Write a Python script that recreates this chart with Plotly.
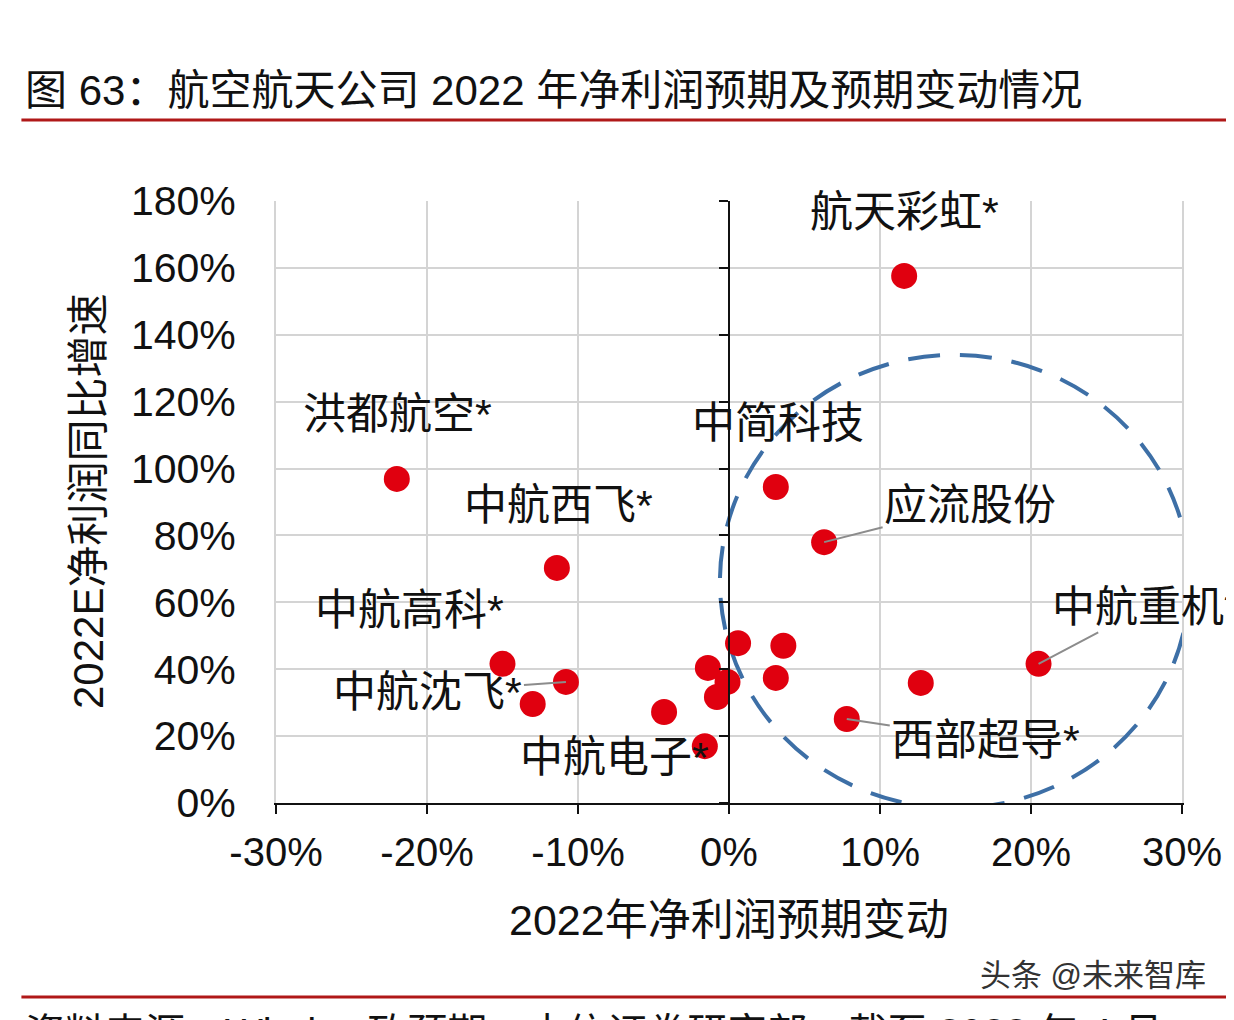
import plotly.graph_objects as go

# 2022 net profit forecast change (%) vs 2022E net profit growth (%)
x_change = [11.6, -22.0, 3.1, 6.3, -11.4, 0.6, 3.6, 20.5, -15.0, -1.4,
            3.1, -0.1, -10.8, 12.7, -0.8, -13.0, -4.3, 7.8, -1.6]
y_growth = [157.6, 96.9, 94.5, 78.0, 70.3, 47.8, 47.0, 41.6, 41.6, 40.4,
            37.4, 36.2, 36.2, 35.9, 31.7, 29.6, 27.2, 25.1, 17.0]
names = ["航天彩虹*", "洪都航空*", "中简科技", "应流股份", "中航西飞*", "", "",
         "中航重机*", "中航高科*", "", "", "", "中航沈飞*", "", "", "", "",
         "西部超导*", "中航电子*"]

x_ticks = [-30, -20, -10, 0, 10, 20, 30]
x_ticktext = ["-30%", "-20%", "-10%", "0%", "10%", "20%", "30%"]
y_ticks = [0, 20, 40, 60, 80, 100, 120, 140, 160, 180]
y_ticktext = ["0%", "20%", "40%", "60%", "80%", "100%", "120%", "140%",
              "160%", "180%"]

# label placement in pixels relative to the point: (dx, dy, leader line)
label_pos = {
    "航天彩虹*": (0, -64, False),
    "洪都航空*": (1, -65, False),
    "中简科技": (2, -64, False),
    "中航西飞*": (2, -63, False),
    "中航高科*": (-93, -54, False),
    "中航沈飞*": (-138, 10, True),
    "中航电子*": (-90, 11, False),
    "应流股份": (146, -37, True),
    "中航重机*": (108, -57, True),
    "西部超导*": (139, 21, True),
}

FONT = "Liberation Sans, Arial, Noto Sans CJK SC, sans-serif"

fig = go.Figure()
fig.add_trace(go.Scatter(
    x=x_change, y=y_growth, mode="markers",
    marker=dict(size=26, color="#E0000F", line=dict(width=0)),
    showlegend=False, hoverinfo="skip",
))
# invisible trace carrying the black y axis drawn at x = 0
fig.add_trace(go.Scatter(x=[None], y=[None], yaxis="y2", showlegend=False))

annotations = []
for xv, yv, name in zip(x_change, y_growth, names):
    if not name:
        continue
    dx, dy, leader = label_pos[name]
    if leader:
        annotations.append(dict(
            x=xv, y=yv, xref="x", yref="y", text=name, showarrow=True,
            ax=dx, ay=dy, arrowhead=0, arrowwidth=2, arrowcolor="#8c8c8c",
            standoff=0, font=dict(size=43, color="#111111", family=FONT),
        ))
    else:
        annotations.append(dict(
            x=xv, y=yv, xref="x", yref="y", text=name, showarrow=False,
            xshift=dx, yshift=-dy,
            font=dict(size=43, color="#111111", family=FONT),
        ))

annotations += [
    dict(x=-0.279, y=1.184, xref="paper", yref="paper", xanchor="left",
         yanchor="middle",
         text="图 63：航空航天公司 2022 年净利润预期及预期变动情况",
         showarrow=False, font=dict(size=42, color="#111111", family=FONT)),
    dict(x=-0.2075, y=0.5, xref="paper", yref="paper", textangle=-90,
         xanchor="center", yanchor="middle",
         text="2022E净利润同比增速", showarrow=False,
         font=dict(size=42, color="#111111", family=FONT)),
    dict(x=0.5, y=-0.194, xref="paper", yref="paper",
         xanchor="center", yanchor="middle",
         text="2022年净利润预期变动", showarrow=False,
         font=dict(size=43, color="#111111", family=FONT)),
    dict(x=1.029, y=-0.286, xref="paper", yref="paper", xanchor="right",
         yanchor="middle",
         text="头条 @未来智库", showarrow=False,
         font=dict(size=31, color="#333333", family=FONT)),
    dict(x=-0.279, y=-0.342, xref="paper", yref="paper", xanchor="left",
         yanchor="top",
         text="资料来源：Wind 一致预期，中信证券研究部，截至 2022 年 4 月",
         showarrow=False, font=dict(size=40, color="#111111", family=FONT)),
]

fig.update_layout(
    width=1226, height=1012,
    margin=dict(l=268, r=43, t=193, b=217),
    paper_bgcolor="white", plot_bgcolor="white",
    font=dict(family=FONT, color="#111111"),
    xaxis=dict(
        range=[-30, 30], tickvals=x_ticks, ticktext=x_ticktext,
        showgrid=True, gridcolor="#d4d4d4", gridwidth=2,
        zeroline=False, showline=True, linecolor="#111111", linewidth=2,
        ticks="outside", ticklen=9, tickwidth=2, tickcolor="#111111",
        ticklabelstandoff=4, tickfont=dict(size=40),
    ),
    yaxis=dict(
        range=[0, 180], tickvals=y_ticks, ticktext=y_ticktext,
        showgrid=True, gridcolor="#d4d4d4", gridwidth=2,
        zeroline=False, showline=True, linecolor="#d4d4d4", linewidth=2,
        mirror=True, ticks="", ticklabelstandoff=30, tickfont=dict(size=41),
    ),
    yaxis2=dict(
        range=[0, 180], tickvals=y_ticks, overlaying="y", anchor="free",
        position=0.5, showgrid=False, zeroline=False, showticklabels=False,
        showline=True, linecolor="#111111", linewidth=2,
        ticks="outside", ticklen=9, tickwidth=2, tickcolor="#111111",
    ),
    annotations=annotations,
    shapes=[
        dict(type="circle", xref="x", yref="y", x0=-0.6, x1=30.5,
             y0=-1.5, y1=134, layer="between",
             line=dict(color="#3D6FA6", width=4, dash="32px,20px")),
        dict(type="line", xref="paper", yref="paper", x0=-0.281, x1=1.06,
             y0=1.1346, y1=1.1346, line=dict(color="#B01818", width=3)),
        dict(type="line", xref="paper", yref="paper", x0=-0.281, x1=1.06,
             y0=-0.3223, y1=-0.3223, line=dict(color="#B01818", width=3)),
    ],
)

fig.write_html("out.html")
